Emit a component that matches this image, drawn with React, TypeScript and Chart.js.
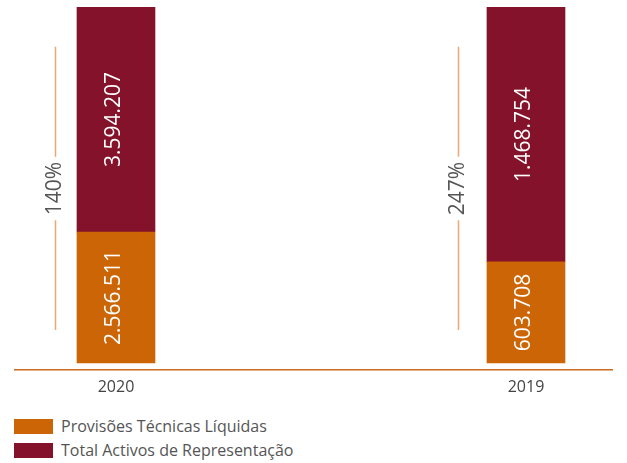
import React, { useEffect, useRef } from "react";
import { Chart, registerables } from "chart.js";

Chart.register(...registerables);

// ---- data ----
const years = ["2020", "2019"];
const provisoesValues = [2566511, 603708];
const activosValues = [3594207, 1468754];
// bar shares (percent of full bar height)
const provisoesShare = [36.8, 28.4];
const activosShare = [63.2, 71.6];
const coverageLabels = ["140%", "247%"];
const seriesNames = ["Provisões Técnicas Líquidas", "Total Activos de Representação"];

const ORANGE = "#cc6506";
const WINE = "#83122a";
const FONT = "'Open Sans', sans-serif";

const fmt = (n: number) => String(n).replace(/\B(?=(\d{3})+(?!\d))/g, ".");

const overlayPlugin = {
  id: "overlay",
  afterDatasetsDraw(chart: any) {
    const ctx = chart.ctx;
    const ys = chart.scales.y;
    const valueArrays = [provisoesValues, activosValues];
    ctx.save();
    chart.data.datasets.forEach((_ds: any, di: number) => {
      const meta = chart.getDatasetMeta(di);
      meta.data.forEach((bar: any, i: number) => {
        const { x, y, base } = bar.getProps(["x", "y", "base"], true);
        const cy = (y + base) / 2;
        ctx.save();
        ctx.translate(x - 2, cy);
        ctx.rotate(-Math.PI / 2);
        ctx.fillStyle = "#ffffff";
        ctx.font = `21px ${FONT}`;
        ctx.textAlign = "center";
        ctx.textBaseline = "middle";
        ctx.fillText(fmt(valueArrays[di][i]), 0, 0);
        ctx.restore();
      });
    });
    // coverage ratio lines
    const opts = chart.options.plugins.overlay;
    const meta0 = chart.getDatasetMeta(0);
    meta0.data.forEach((bar: any, i: number) => {
      const { x, width } = bar.getProps(["x", "width"], true);
      const lx = Math.round(x - width / 2 - opts.offsets[i]) + 0.5;
      const top = ys.getPixelForValue(opts.lineTop);
      const bottom = ys.getPixelForValue(opts.lineBottom);
      const cy = ys.getPixelForValue(opts.labelAt);
      ctx.font = `21px ${FONT}`;
      const w = ctx.measureText(coverageLabels[i]).width;
      const gap = w / 2 + 5;
      ctx.strokeStyle = "#eba870";
      ctx.lineWidth = 1.5;
      ctx.beginPath();
      ctx.moveTo(lx, top);
      ctx.lineTo(lx, cy - gap);
      ctx.moveTo(lx, cy + gap);
      ctx.lineTo(lx, bottom);
      ctx.stroke();
      ctx.save();
      ctx.translate(lx, cy);
      ctx.rotate(-Math.PI / 2);
      ctx.fillStyle = "#555555";
      ctx.textAlign = "center";
      ctx.textBaseline = "middle";
      ctx.fillText(coverageLabels[i], 0, 0);
      ctx.restore();
    });
    ctx.restore();
  },
};

export default function App() {
  const ref = useRef<HTMLCanvasElement>(null);
  useEffect(() => {
    if (!ref.current) return;
    const chart = new Chart(ref.current, {
      type: "bar",
      data: {
        datasets: [
          {
            label: seriesNames[0],
            data: provisoesShare.map((v, i) => ({ x: i, y: v })),
            backgroundColor: ORANGE,
            barThickness: 78,
          },
          {
            label: seriesNames[1],
            data: activosShare.map((v, i) => ({ x: i, y: v })),
            backgroundColor: WINE,
            barThickness: 78,
          },
        ],
      },
      options: {
        responsive: false,
        animation: false,
        layout: { padding: { left: 15, right: 15, top: 7, bottom: 0 } },
        plugins: {
          legend: { display: false },
          tooltip: { enabled: false },
          overlay: { offsets: [22, 29], lineTop: 88.8, lineBottom: 9.3, labelAt: 49 },
        } as any,
        scales: {
          x: {
            type: "linear",
            stacked: true,
            offset: false,
            min: -0.2463,
            max: 1.2098,
            grid: { display: false, drawTicks: false },
            border: { display: true, color: "#cc6a1f", width: 1.5 },
            afterBuildTicks: (s: any) => {
              s.ticks = years.map((_, i) => ({ value: i }));
            },
            afterFit: (s: any) => {
              s.height = 30;
            },
            ticks: {
              color: "#444444",
              font: { family: FONT, size: 16 },
              padding: 8,
              callback: (v: any) => years[v] ?? "",
            },
          },
          y: {
            display: false,
            stacked: true,
            min: -1.97,
            max: 100,
          },
        },
      },
      plugins: [overlayPlugin],
    } as any);
    return () => chart.destroy();
  }, []);

  const legendItem = (color: string, text: string, top: number) => (
    <div style={{ position: "absolute", left: 14, top, display: "flex", alignItems: "center", height: 16 }}>
      <div style={{ width: 39, height: 15, background: color }} />
      <span style={{ marginLeft: 8, fontFamily: FONT, fontSize: 16, color: "#555555", whiteSpace: "nowrap" }}>
        {text}
      </span>
    </div>
  );

  return (
    <div style={{ position: "fixed", left: 0, top: 0, width: 627, height: 463, background: "#fff" }}>
      <canvas ref={ref} width={627} height={400} style={{ position: "absolute", left: 0, top: 0 }} />
      {legendItem(ORANGE, seriesNames[0], 418)}
      {legendItem(WINE, seriesNames[1], 442)}
    </div>
  );
}
